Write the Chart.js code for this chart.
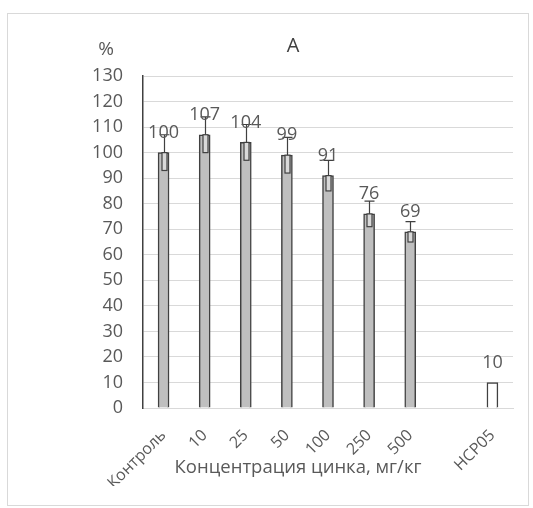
<!DOCTYPE html>
<html>
<head>
<meta charset="utf-8">
<script src="https://cdn.jsdelivr.net/npm/chart.js@4/dist/chart.umd.min.js"></script>
<style>
    html, body { margin: 0; padding: 0; background: #ffffff; }
    #wrap { position: relative; width: 533px; height: 508px; }
    #frame { position: absolute; left: 7px; top: 13px; width: 522px; height: 493px; border: 1px solid #d9d9d9; box-sizing: border-box; }
</style>
</head>
<body>
<div id="wrap">
    <div id="frame"></div>
    <canvas id="zincChart" width="533" height="508"></canvas>
</div>
<script>

/*==================================================
DATA
==================================================*/

const categories = ["Контроль", "10", "25", "50", "100", "250", "500", "", "НСР05"];

const values = [100, 107, 104, 99, 91, 76, 69, null, 10];

const errors = [7, 7, 7, 7, 6, 5, 4, null, null];

const yTicks = { min: 0, max: 130, step: 10 };

const titleText = "А";

const xTitle = "Концентрация цинка, мг/кг";

const yUnit = "%";

/*==================================================
STYLE
==================================================*/

const FONT = "'Open Sans', sans-serif";
const TEXT = "#595959";
const DARK = "#404040";

const fills = values.map((v, i) => categories[i] === "НСР05" ? "#ffffff" : "#bfbfbf");

/*==================================================
PLUGINS
==================================================*/

const errorBars = {

    id: "errorBars",

    afterDatasetsDraw(chart) {

        const ctx = chart.ctx;
        const meta = chart.getDatasetMeta(0);
        const y = chart.scales.y;

        ctx.save();
        ctx.strokeStyle = DARK;
        ctx.lineWidth = 1.2;

        meta.data.forEach((bar, i) => {

            const e = errors[i];

            if (e == null || values[i] == null) return;

            const x = Math.round(bar.x) + 0.5;
            const top = y.getPixelForValue(values[i]);
            const hi = y.getPixelForValue(values[i] + e);
            const lo = y.getPixelForValue(values[i] - e);

            ctx.beginPath();
            ctx.moveTo(x, top);
            ctx.lineTo(x, hi);
            ctx.moveTo(x - 5, hi);
            ctx.lineTo(x + 5, hi);
            ctx.stroke();

            ctx.fillStyle = "#d9d9d9";
            ctx.fillRect(x - 2.5, top, 5, lo - top);
            ctx.strokeRect(x - 2.5, top, 5, lo - top);

        });

        ctx.restore();

    }

};

const valueLabels = {

    id: "valueLabels",

    afterDatasetsDraw(chart) {

        const ctx = chart.ctx;
        const meta = chart.getDatasetMeta(0);

        ctx.save();
        ctx.font = "18px " + FONT;
        ctx.fillStyle = TEXT;
        ctx.textAlign = "center";
        ctx.textBaseline = "bottom";

        meta.data.forEach((bar, i) => {

            if (values[i] == null) return;

            ctx.fillText(String(values[i]), bar.x, bar.y - 11);

        });

        ctx.restore();

    }

};

const extraText = {

    id: "extraText",

    afterDraw(chart) {

        const ctx = chart.ctx;

        ctx.save();
        ctx.fillStyle = TEXT;
        ctx.textAlign = "center";
        ctx.textBaseline = "middle";

        ctx.font = "19px " + FONT;
        ctx.fillText(yUnit, 106, 50);

        ctx.font = "18.5px " + FONT;
        ctx.fillText(xTitle, 298, 468);

        ctx.font = "20px " + FONT;
        ctx.fillStyle = "#404040";
        ctx.fillText(titleText, 293, 46);

        ctx.restore();

    }

};

/*==================================================
CHART
==================================================*/

new Chart(document.getElementById("zincChart"), {

    type: "bar",

    data: {

        labels: categories,

        datasets: [{

            data: values,

            backgroundColor: fills,

            borderColor: DARK,

            borderWidth: 1.5,

            barThickness: 11

        }]

    },

    options: {

        responsive: false,

        animation: false,

        layout: {

            padding: { left: 20, right: 20, top: 76, bottom: 22 }

        },

        plugins: {

            legend: { display: false },

            tooltip: { enabled: false }

        },

        scales: {

            x: {

                grid: { display: false },

                border: { color: "#d9d9d9" },

                ticks: {

                    color: TEXT,

                    font: { family: FONT, size: 16 },

                    maxRotation: 45,

                    minRotation: 45,

                    padding: 10,

                    autoSkip: false

                },

                afterFit: s => { s.height = 78; }

            },

            y: {

                min: yTicks.min,

                max: yTicks.max,

                grid: { color: "#d9d9d9", drawTicks: false },

                border: { color: DARK, width: 1.5 },

                ticks: {

                    stepSize: yTicks.step,

                    color: TEXT,

                    font: { family: FONT, size: 18 },

                    padding: 20

                },

                afterFit: s => { s.width = 123; }

            }

        }

    },

    plugins: [errorBars, valueLabels, extraText]

});

</script>
</body>
</html>
